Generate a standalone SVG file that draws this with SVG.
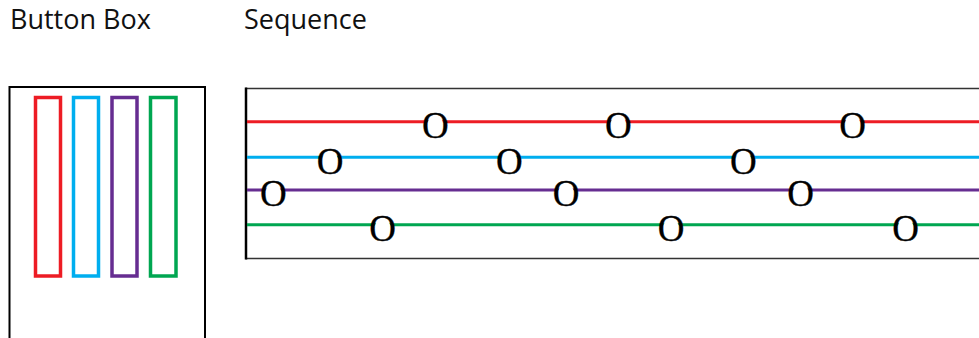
<svg xmlns="http://www.w3.org/2000/svg" width="979" height="338" viewBox="0 0 979 338">
<style>
.title{font-family:"Open Sans","Noto Sans",sans-serif;font-size:27px;fill:#111}
.o{font-family:"Liberation Serif","Times New Roman",serif;font-size:37px;fill:#000;stroke:#000;stroke-width:0.3;text-anchor:middle}
.bg{fill:#fff}
.btn{fill:none;stroke-width:3.5}
.ln{fill:none;stroke-width:3}
.red{stroke:#ed1c24}.blue{stroke:#00aeef}.purple{stroke:#662d91}.green{stroke:#00a651}
</style>
<rect width="979" height="338" fill="#fff"/>
<text class="title" x="10" y="29">Button Box</text>
<text class="title" x="244" y="29">Sequence</text>
<g id="button-box">
<rect x="9.5" y="87" width="195.5" height="262" fill="none" stroke="#000" stroke-width="2"/>
<rect class="btn red" x="35.5" y="97.5" width="25" height="178.5"/>
<rect class="btn blue" x="73.5" y="97.5" width="25" height="178.5"/>
<rect class="btn purple" x="112" y="97.5" width="25" height="178.5"/>
<rect class="btn green" x="150.5" y="97.5" width="25.5" height="178.5"/>
</g>
<g id="sequence">
<line x1="245.5" y1="88.5" x2="979" y2="88.5" stroke="#333" stroke-width="1.5"/>
<line x1="245.5" y1="258.5" x2="979" y2="258.5" stroke="#333" stroke-width="1.5"/>
<line x1="246" y1="87.5" x2="246" y2="259.5" stroke="#000" stroke-width="2.5"/>
<line class="ln red" x1="247" y1="121.7" x2="979" y2="121.7"/>
<line class="ln blue" x1="247" y1="157.3" x2="979" y2="157.3"/>
<line class="ln purple" x1="247" y1="190" x2="979" y2="190"/>
<line class="ln green" x1="247" y1="224.7" x2="979" y2="224.7"/>
<g id="red-marks">
<ellipse class="bg" cx="435.3" cy="126.7" rx="9" ry="10"/><text class="o" x="435.3" y="138">O</text>
<ellipse class="bg" cx="618.3" cy="126.7" rx="9" ry="10"/><text class="o" x="618.3" y="138">O</text>
<ellipse class="bg" cx="852.7" cy="126.7" rx="9" ry="10"/><text class="o" x="852.7" y="138">O</text>
</g>
<g id="blue-marks">
<ellipse class="bg" cx="330" cy="162.2" rx="9" ry="10"/><text class="o" x="330" y="173.5">O</text>
<ellipse class="bg" cx="509.3" cy="162.2" rx="9" ry="10"/><text class="o" x="509.3" y="173.5">O</text>
<ellipse class="bg" cx="743.3" cy="162.2" rx="9" ry="10"/><text class="o" x="743.3" y="173.5">O</text>
</g>
<g id="purple-marks">
<ellipse class="bg" cx="273.3" cy="195" rx="9" ry="10"/><text class="o" x="273.3" y="206.3">O</text>
<ellipse class="bg" cx="566" cy="195" rx="9" ry="10"/><text class="o" x="566" y="206.3">O</text>
<ellipse class="bg" cx="800.7" cy="195" rx="9" ry="10"/><text class="o" x="800.7" y="206.3">O</text>
</g>
<g id="green-marks">
<ellipse class="bg" cx="382.7" cy="229.7" rx="9" ry="10"/><text class="o" x="382.7" y="241">O</text>
<ellipse class="bg" cx="671" cy="229.7" rx="9" ry="10"/><text class="o" x="671" y="241">O</text>
<ellipse class="bg" cx="905.7" cy="229.7" rx="9" ry="10"/><text class="o" x="905.7" y="241">O</text>
</g>
</g>
</svg>
